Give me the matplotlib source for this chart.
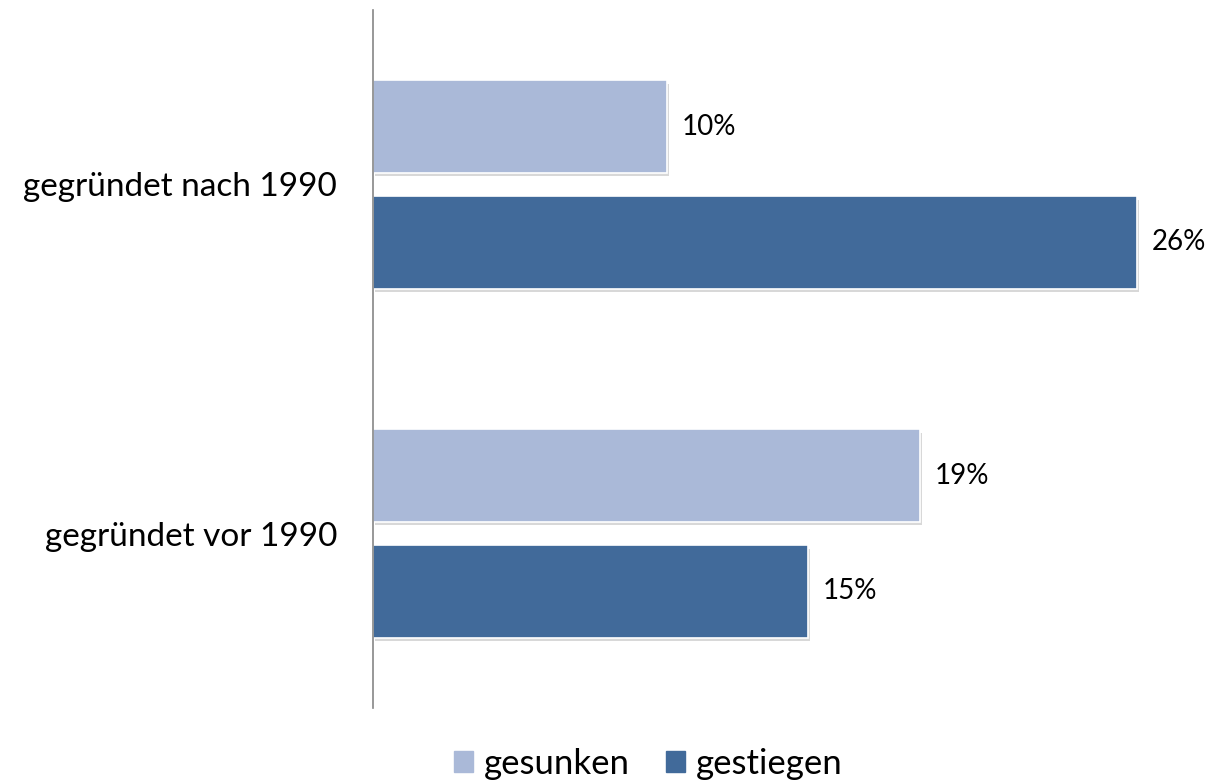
import matplotlib
matplotlib.use("Agg")
from matplotlib import pyplot as plt
import matplotlib.patheffects as pe
from matplotlib.patches import Patch
import numpy as np

plt.rcParams['font.family'] = ['Lato', 'DejaVu Sans']

# Daten
kategorien = ["gegründet vor 1990", "gegründet nach 1990"]
gesunken = [18.6, 10.0]
gestiegen = [14.8, 26.0]

farbe_gesunken = "#AAB9D8"
farbe_gestiegen = "#416A9A"

fig = plt.figure(figsize=(12.12, 7.84), dpi=100)
breite = 30 * 29.4 / 1212
ax = fig.add_axes([373 / 1212, 76 / 784, breite, 698 / 784])

y = np.arange(len(kategorien))
h = 0.264
schatten = [pe.SimplePatchShadow(offset=(1.5, -2.5), alpha=0.25, shadow_rgbFace="#666666"), pe.Normal()]

b1 = ax.barh(y + 0.166, gesunken, height=h, color=farbe_gesunken, edgecolor="white",
             linewidth=1.2)
b2 = ax.barh(y - 0.166, gestiegen, height=h, color=farbe_gestiegen, edgecolor="white",
             linewidth=1.2)
for bar in list(b1) + list(b2):
    bar.set_path_effects(schatten)

# Werte beschriften
for bars, werte in [(b1, gesunken), (b2, gestiegen)]:
    for bar, v in zip(bars, werte):
        ax.text(v + 0.5, bar.get_y() + bar.get_height() / 2, f"{v:.0f}%",
                va="center", ha="left", fontsize=20, color="black")

ax.set_xlim(0, 30)
ax.set_ylim(-0.5, 1.5)
ax.set_yticks(y)
ax.set_yticklabels(kategorien, fontsize=24)
ax.tick_params(axis="y", length=0, pad=26)
ax.set_xticks([])

for s in ["top", "right", "bottom"]:
    ax.spines[s].set_visible(False)
ax.spines["left"].set_color("#868686")
ax.spines["left"].set_linewidth(1.2)

handles = [Patch(color=farbe_gesunken, label="gesunken"),
           Patch(color=farbe_gestiegen, label="gestiegen")]
fig.legend(handles=handles, loc="center", bbox_to_anchor=(0.535, 20 / 784), ncol=2,
           frameon=False, fontsize=25, handlelength=0.55, handleheight=0.55,
           handletextpad=0.3, columnspacing=1.05, borderpad=0.2)

fig.savefig("out.png", dpi=100)
